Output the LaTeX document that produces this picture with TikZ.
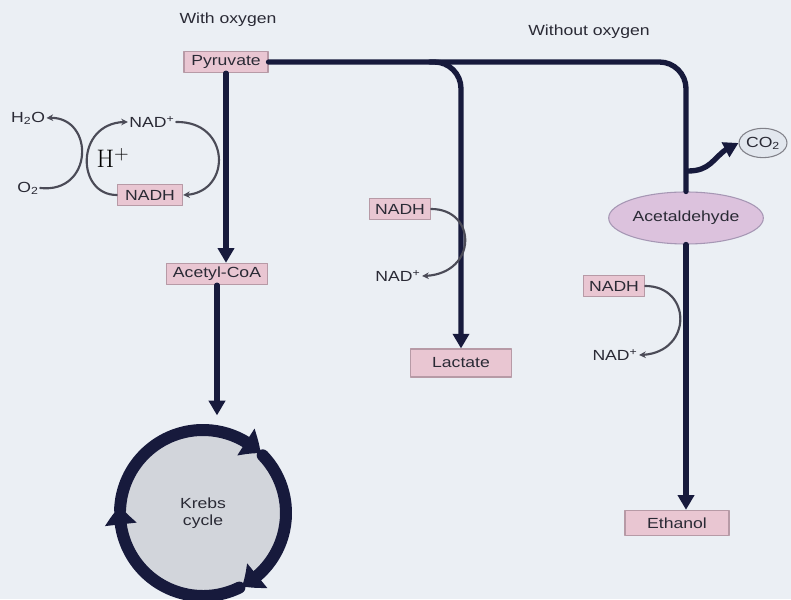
\documentclass[tikz,border=0pt]{standalone}
\usepackage{fontspec}
\newfontfamily\labelfont{Liberation Sans}[FakeStretch=1.2]
\usepackage{tikz}
\usetikzlibrary{arrows.meta,bending,positioning,calc,shapes.geometric}
\definecolor{bgpaper}{HTML}{EBEFF4}
\definecolor{pinkfill}{HTML}{E9C6D2}
\definecolor{pinkline}{HTML}{B79AA6}
\definecolor{lilac}{HTML}{DCC2DD}
\definecolor{lilacline}{HTML}{A697B4}
\definecolor{navyink}{HTML}{171A3C}
\definecolor{greyink}{HTML}{4B4B57}
\definecolor{cyclefill}{HTML}{D2D5DB}
\definecolor{gasfill}{HTML}{E2E7EE}
\definecolor{textink}{HTML}{2A2A35}
\tikzset{
    every picture/.style={line cap=round,line join=round},
    lbl/.style={font=\labelfont\fontsize{11}{13}\selectfont,text=textink,inner sep=1pt},
    molbox/.style={lbl,draw=pinkline,fill=pinkfill,line width=0.8pt,
      minimum height=16pt,inner xsep=4pt,inner ysep=2pt},
    molell/.style={lbl,ellipse,draw=lilacline,fill=lilac,line width=0.8pt,
      minimum width=116pt,minimum height=39pt},
    gasell/.style={lbl,ellipse,draw=greyink!70,fill=gasfill,line width=0.8pt,
      minimum width=28pt,minimum height=22pt,inner sep=0pt},
    mainline/.style={draw=navyink,line width=4pt},
    mainarrow/.style={mainline,-{Triangle[length=11pt,width=12pt]}},
    thinarrow/.style={draw=greyink,line width=1.6pt,-{Stealth[length=5pt,width=5pt]}},
    cyclering/.style={draw=navyink,line width=9pt,-{Triangle[length=14pt,width=23pt,bend]}}
}
\begin{document}
\begin{tikzpicture}[x=0.75pt,y=0.75pt]
  \fill[bgpaper] (0,0) rectangle (791,599);
  \useasboundingbox (0,0) rectangle (791,599);
  % headings
  \node[lbl] (withox) at (228,579) {With oxygen};
  \node[lbl] (withoutox) at (589,567) {Without oxygen};
  % pyruvate and aerobic route
  \node[molbox,minimum width=63pt] (pyr) at (226,537) {Pyruvate};
  \node[molbox,minimum width=76pt] (acoa) at (217,325) {Acetyl-CoA};
  \node[circle,fill=cyclefill,minimum size=124pt,lbl,align=center] (krebs) at (203,86) {Krebs\\cycle};
  \foreach \a/\b in {178/46,44/-62,-64/-185} {
    \draw[cyclering] ([shift={(krebs.center)}]\a:62.25pt) arc[start angle=\a,end angle=\b,radius=62.25pt];
  }
  \draw[mainarrow] (pyr.south) -- (pyr.south |- acoa.north);
  \draw[mainarrow,shorten >=11pt] (acoa.south) -- (acoa.south |- krebs.north);
  % electron transport
  \node[lbl] (h2o) at (28,481) {H\textsubscript{2}O};
  \node[lbl] (otwo) at (28,411) {O\textsubscript{2}};
  \node[lbl] (nadp1) at (152,477) {NAD\textsuperscript{+}};
  \node[molbox,minimum width=49pt] (nadh1) at (150,404) {NADH};
  \node[font=\fontsize{19}{21}\selectfont] (hplus) at (113,441) {$\mathrm{H}^{+}$};
  \draw[thinarrow] (otwo.east) .. controls (95,405) and (95,486) .. (h2o.east);
  \draw[thinarrow] (nadh1.west) .. controls (75,404) and (75,479) .. (nadp1.west);
  \draw[thinarrow] (nadp1.east) .. controls (232,478) and (232,404) .. (nadh1.east);
  % anaerobic routes
  \node[molbox,minimum width=76pt,minimum height=21pt] (lac) at (461,236) {Lactate};
  \node[molbox,minimum width=46pt] (nadh2) at (400,390) {NADH};
  \node[lbl] (nadp2) at (398,323) {NAD\textsuperscript{+}};
  \node[molell] (acet) at (686,381) {Acetaldehyde};
  \node[gasell] (co2) at (763,456) {CO\textsubscript{2}};
  \node[molbox,minimum width=78pt,minimum height=19pt] (eth) at (677,76) {Ethanol};
  \node[molbox,minimum width=46pt] (nadh3) at (614,313) {NADH};
  \node[lbl] (nadp3) at (615,244) {NAD\textsuperscript{+}};
  \coordinate (lacsplit) at (430,537);
  \coordinate (cobranch) at (688,428);
  \draw[mainline,rounded corners=20pt] (pyr.east) -| (acet.north);
  \draw[mainarrow,rounded corners=20pt] (lacsplit) -| (lac.north);
  \draw[mainarrow] (cobranch) to[out=0,in=200,looseness=1.2] (co2.west);
  \draw[mainarrow] (acet.south) -- (acet.south |- eth.north);
  \draw[thinarrow] (nadh2.east) .. controls (478,390) and (478,323) .. (nadp2.east);
  \draw[thinarrow] (nadh3.east) .. controls (693,313) and (693,244) .. (nadp3.east);
\end{tikzpicture}
\end{document}
